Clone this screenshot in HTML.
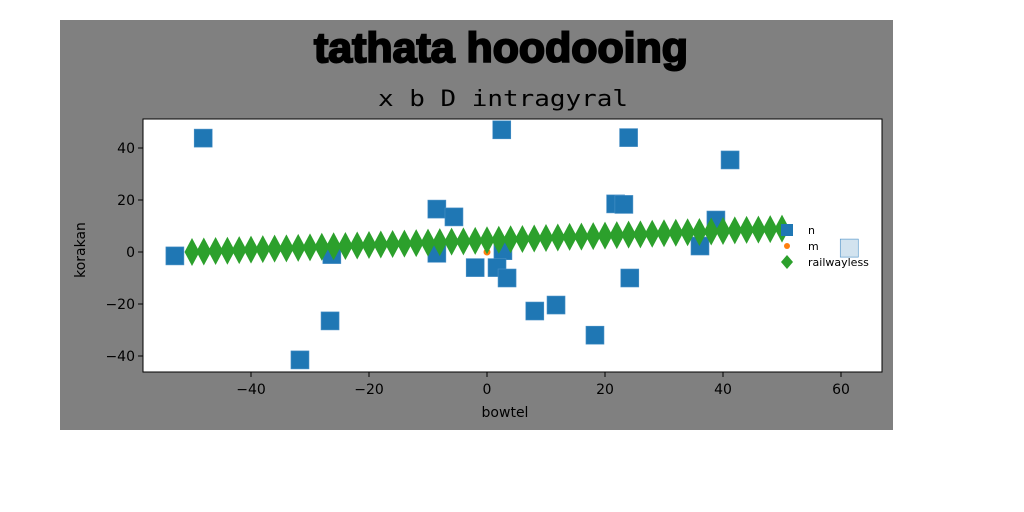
<!DOCTYPE html>
<html><head><meta charset="utf-8"><style>
html,body{margin:0;padding:0;background:#fff;width:1024px;height:512px;overflow:hidden}
svg{display:block}
text{font-family:"DejaVu Sans","Liberation Sans",sans-serif}
</style></head><body>
<svg id="chart" width="1024" height="512" xmlns="http://www.w3.org/2000/svg">
<rect x="60" y="20" width="833" height="410" fill="#808080"/>
<text x="501" y="62" text-anchor="middle" textLength="374" lengthAdjust="spacingAndGlyphs" style="font-family:'Liberation Sans',sans-serif;font-weight:bold;font-size:42px;stroke:#000;stroke-width:2" fill="#000">tathata hoodooing</text>
<text x="503" y="106" text-anchor="middle" textLength="250" lengthAdjust="spacingAndGlyphs" style="font-family:'DejaVu Sans Mono','Liberation Mono',monospace;font-size:22px" fill="#000">x b D intragyral</text>
<rect x="143" y="119" width="739" height="253" fill="#fff" stroke="#000" stroke-width="1"/>
<g id="marks"></g>
<g id="axes"></g>
<text x="505" y="417" text-anchor="middle" font-size="14" fill="#000">bowtel</text>
<text x="0" y="0" transform="translate(85,250) rotate(-90)" text-anchor="middle" font-size="14" fill="#000">korakan</text>
<g>
<rect x="781" y="224" width="12" height="12" fill="#1f77b4"/>
<text x="808" y="234" font-size="11" fill="#000">n</text>
<circle cx="787" cy="246" r="3" fill="#ff7f0e"/>
<text x="808" y="250" font-size="11" fill="#000">m</text>
<polygon points="787,255 793,262 787,269 781,262" fill="#2ca02c"/>
<text x="808" y="266" font-size="11" fill="#000">railwayless</text>
</g>
</svg>
<script>
const nX=[-52.9,-48.1,2.5,-31.7,-26.6,-26.3,-8.5,-5.6,-8.5,2.7,-2,1.7,3.4,8.1,11.7,18.3,21.8,23.2,24,24.2,41.2,38.8,36.1,61.4];
const nY=[-1.5,43.8,47,-41.5,-26.5,-1,16.5,13.5,-0.5,0.5,-6,-6,-10,-22.7,-20.4,-32,18.5,18.3,44,-10,35.4,12.3,2.3,1.5];
const mX=[0];
const mY=[0];
const rX=[-50,-48,-46,-44,-42,-40,-38,-36,-34,-32,-30,-28,-26,-24,-22,-20,-18,-16,-14,-12,-10,-8,-6,-4,-2,0,2,4,6,8,10,12,14,16,18,20,22,24,26,28,30,32,34,36,38,40,42,44,46,48,50];
const rY=[0,0.2,0.4,0.5,0.7,0.9,1.1,1.3,1.4,1.6,1.8,2,2.2,2.3,2.5,2.7,2.9,3.1,3.2,3.4,3.6,3.8,4,4.1,4.3,4.5,4.7,4.9,5,5.2,5.4,5.6,5.8,5.9,6.1,6.3,6.5,6.7,6.8,7,7.2,7.4,7.6,7.7,7.9,8.1,8.3,8.5,8.6,8.8,9];
const xTicks=[-40,-20,0,20,40,60];
const yTicks=[-40,-20,0,20,40];
const NS="http://www.w3.org/2000/svg";
function sx(v){return 487+v*5.9;}
function sy(v){return 252-v*2.6;}
function mk(t,a){const e=document.createElementNS(NS,t);for(const k in a)e.setAttribute(k,a[k]);return e;}
const g=document.getElementById('marks');
nX.forEach((x,i)=>{const e=mk('rect',{x:sx(x)-9,y:sy(nY[i])-9,width:18,height:18,fill:x>55?'#d2e3ef':'#1f77b4',stroke:'#4a90c6','stroke-width':0.6});


g.appendChild(e);});
mX.forEach((x,i)=>{const e=mk('circle',{cx:sx(x),cy:sy(mY[i]),r:3.5,fill:'#ff7f0e'});


g.appendChild(e);});
rX.forEach((x,i)=>{const cx=sx(x),cy=sy(rY[i]);const e=mk('polygon',{points:`${cx},${cy-14} ${cx+7.5},${cy} ${cx},${cy+14} ${cx-7.5},${cy}`,fill:'#2ca02c'});


g.appendChild(e);});
const a=document.getElementById('axes');
xTicks.forEach(t=>{const x=sx(t);a.appendChild(mk('line',{x1:x,x2:x,y1:372,y2:377,stroke:'#000'}));
const l=mk('text',{x:x,y:394,'text-anchor':'middle','font-size':14,fill:'#000'});l.textContent=String(t).replace('-','\u2212');


a.appendChild(l);});
yTicks.forEach(t=>{const y=sy(t);a.appendChild(mk('line',{x1:138,x2:143,y1:y,y2:y,stroke:'#000'}));
const l=mk('text',{x:135,y:y+5,'text-anchor':'end','font-size':14,fill:'#000'});l.textContent=String(t).replace('-','\u2212');


a.appendChild(l);});
</script>
</body></html>
